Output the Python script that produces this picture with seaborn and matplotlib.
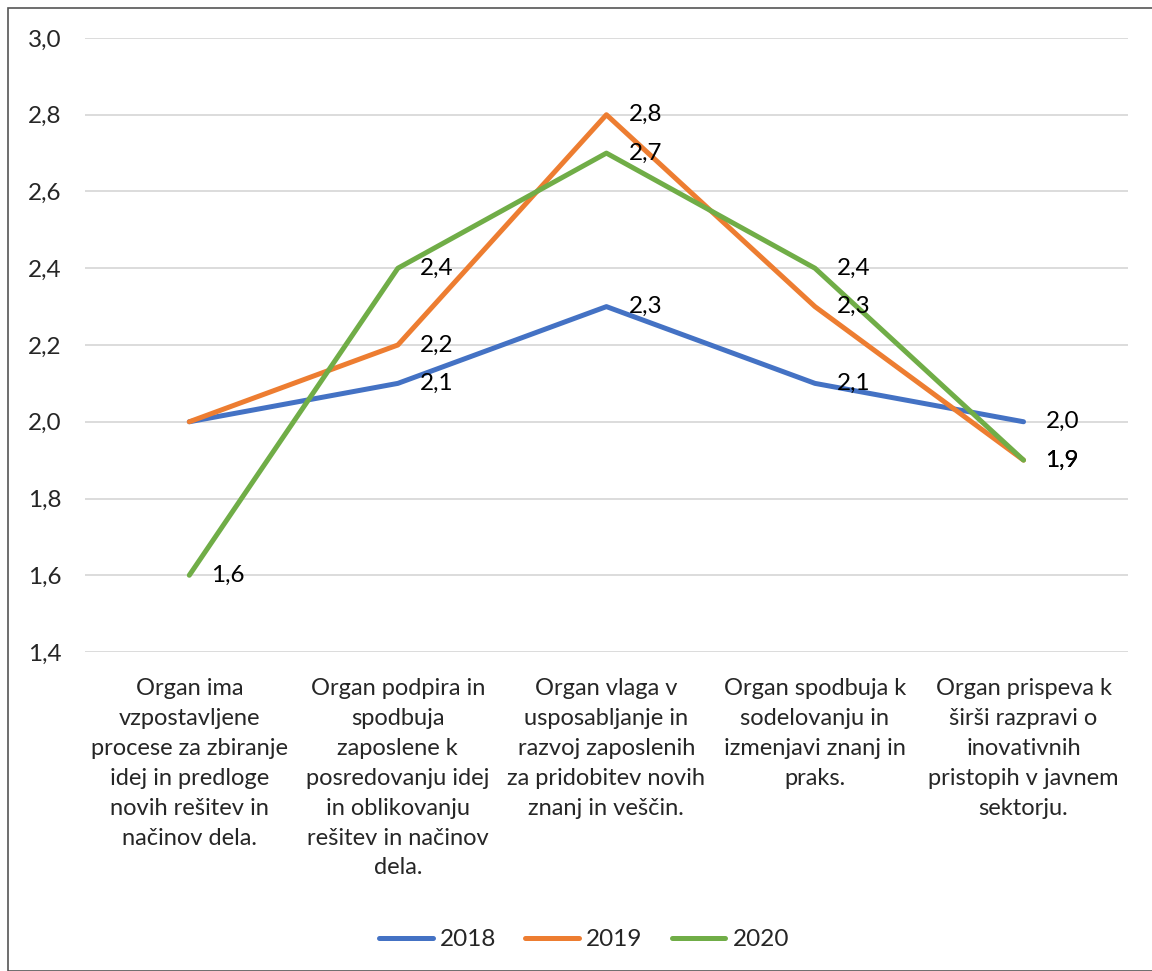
import matplotlib
matplotlib.use("Agg")
import matplotlib.pyplot as plt
import seaborn as sns
import pandas as pd
from matplotlib.patches import Rectangle

categories = [
    "Organ ima\nvzpostavljene\nprocese za zbiranje\nidej in predloge\nnovih rešitev in\nnačinov dela.",
    "Organ podpira in\nspodbuja\nzaposlene k\nposredovanju idej\nin oblikovanju\nrešitev in načinov\ndela.",
    "Organ vlaga v\nusposabljanje in\nrazvoj zaposlenih\nza pridobitev novih\nznanj in veščin.",
    "Organ spodbuja k\nsodelovanju in\nizmenjavi znanj in\npraks.",
    "Organ prispeva k\nširši razpravi o\ninovativnih\npristopih v javnem\nsektorju.",
]
years = ["2018", "2019", "2020"]
values_2018 = [2.0, 2.1, 2.3, 2.1, 2.0]
values_2019 = [2.0, 2.2, 2.8, 2.3, 1.9]
values_2020 = [1.6, 2.4, 2.7, 2.4, 1.9]
# which points carry a data label in the original
labeled_2018 = [False, True, True, True, True]
labeled_2019 = [False, True, True, True, True]
labeled_2020 = [True, True, True, True, True]
y_ticks = [1.4, 1.6, 1.8, 2.0, 2.2, 2.4, 2.6, 2.8, 3.0]

colors = {"2018": "#4472C4", "2019": "#ED7D31", "2020": "#70AD47"}

rows = []
for year, vals, labs in zip(years, [values_2018, values_2019, values_2020],
                            [labeled_2018, labeled_2019, labeled_2020]):
    for i, v in enumerate(vals):
        rows.append({"x": i, "value": v, "year": year, "label": labs[i]})
df = pd.DataFrame(rows)

sns.set_style("white")
plt.rcParams["font.family"] = ["Lato", "DejaVu Sans"]

fig = plt.figure(figsize=(11.52, 9.71), dpi=100)
ax = fig.add_axes([0.0738, 0.3285, 0.9052, 0.6324])

sns.lineplot(data=df, x="x", y="value", hue="year", palette=colors,
             linewidth=3.6, ax=ax, legend=False, sort=False)

for _, r in df[df["label"]].iterrows():
    ax.annotate(f"{r['value']:.1f}".replace(".", ","), (r["x"], r["value"]),
                xytext=(22, 0), textcoords="offset pixels",
                va="center", ha="left", fontsize=17.5, color="#000000")

ax.set_xlim(-0.5, 4.5)
ax.set_ylim(1.4, 3.0)
ax.set_yticks(y_ticks)
ax.set_yticklabels([f"{t:.1f}".replace(".", ",") for t in y_ticks], fontsize=17.5)
ax.set_xticks(range(len(categories)))
ax.set_xticklabels(categories, fontsize=17, linespacing=1.52, va="top")
ax.tick_params(axis="x", length=0, pad=19)
ax.tick_params(axis="y", length=0, pad=17)
ax.yaxis.grid(True, color="#D9D9D9", linewidth=1.3)
ax.set_axisbelow(True)
for s in ax.spines.values():
    s.set_visible(False)
ax.set_xlabel("")
ax.set_ylabel("")

handles = [plt.Line2D([0], [0], color=colors[y], linewidth=3.6, solid_capstyle="round") for y in years]
fig.legend(handles, years, loc="center", bbox_to_anchor=(0.507, 0.032), ncol=3,
           frameon=False, fontsize=17.5, handlelength=2.2, handletextpad=0.3,
           columnspacing=1.2)

fig.patches.append(Rectangle((8 / 1152, 0), 1.2, 1 - 8 / 971, transform=fig.transFigure,
                             fill=False, edgecolor="#555555", linewidth=1.2))

fig.savefig("out.png", dpi=100)
